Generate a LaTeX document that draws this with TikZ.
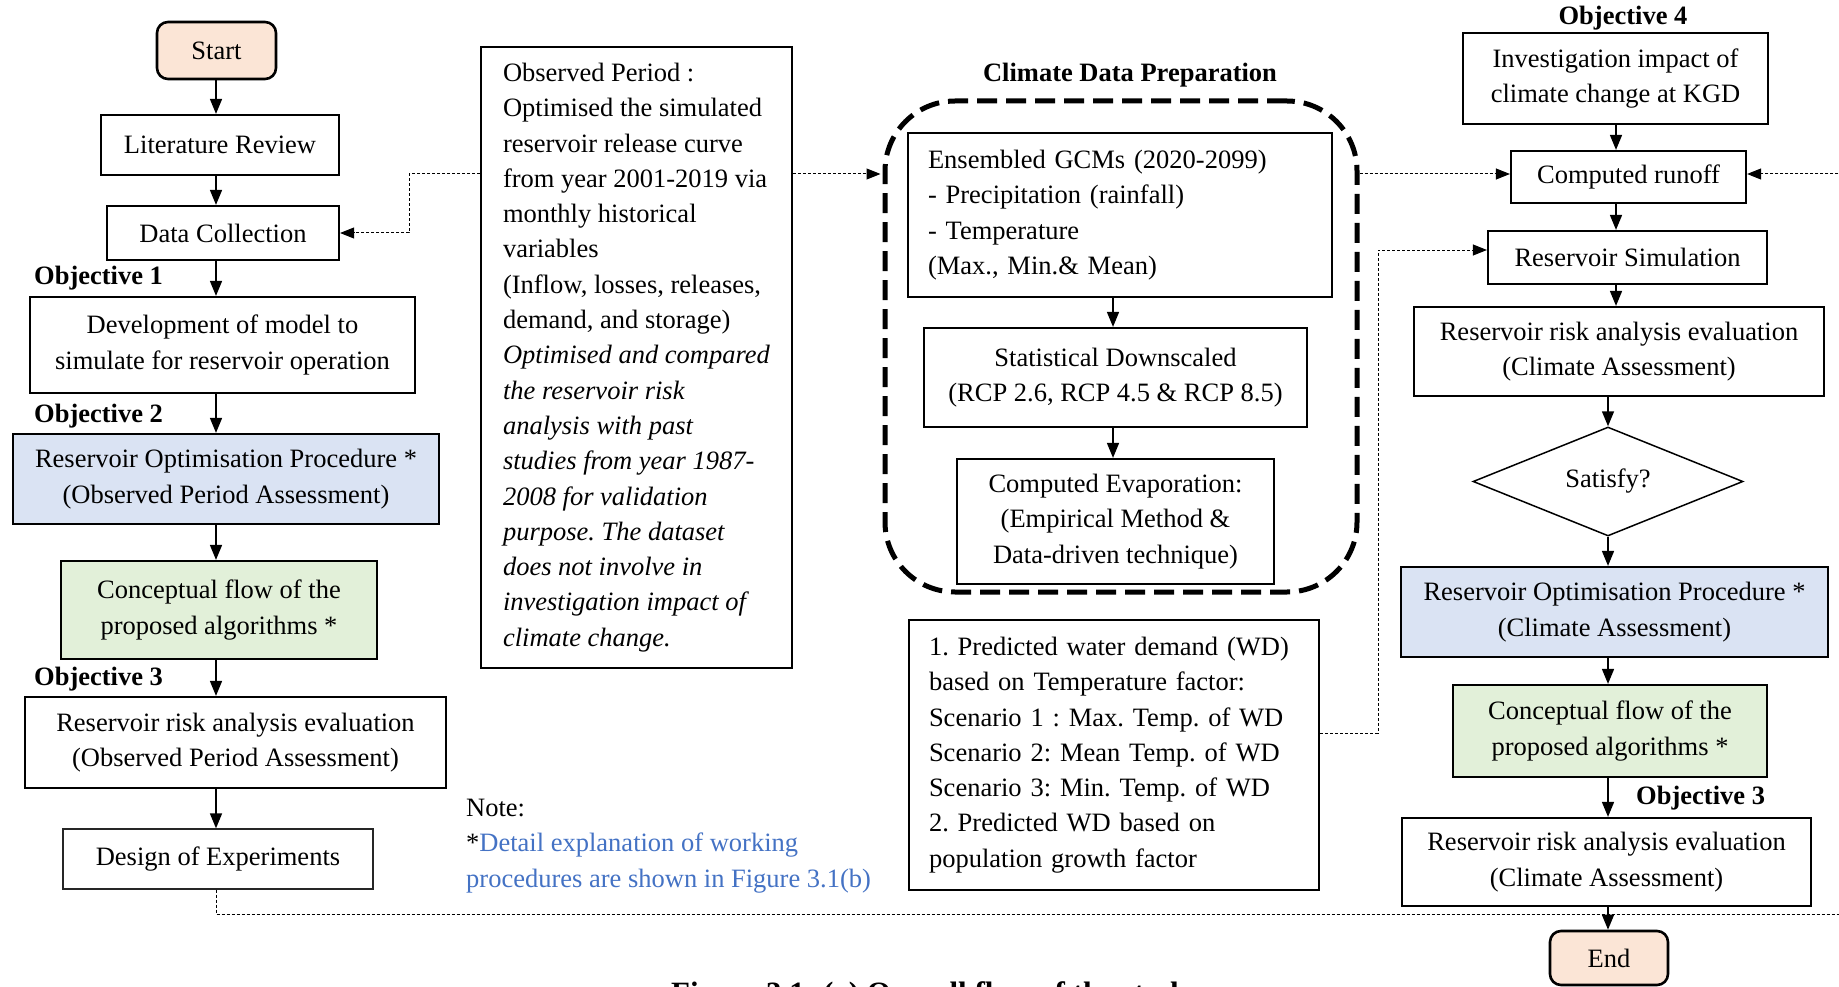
\documentclass[tikz,border=0pt]{standalone}
\usepackage{fontspec}
\setmainfont{Liberation Serif}
\usetikzlibrary{shapes.geometric,arrows.meta}
\definecolor{peach}{HTML}{FBE5D6}
\definecolor{paleblue}{HTML}{DAE3F3}
\definecolor{palegreen}{HTML}{E2F0D9}
\definecolor{noteblue}{HTML}{4472C4}
\frenchspacing

\begin{document}
\begin{tikzpicture}[x=1pt,y=-1pt,
  every node/.style={font=\fontsize{26.5}{35.3}\selectfont, inner sep=0pt},
  box/.style={draw, line width=2.2pt, align=center},
  thinbox/.style={draw=black!85, line width=1.3pt, align=center},
  terminal/.style={draw, line width=2.6pt, rounded corners=11pt, fill=peach},
  objlabel/.style={font=\fontsize{26.5}{35.3}\selectfont\bfseries},
  flow/.style={line width=1.5pt, -{Triangle[length=15pt,width=12pt]}},
  link/.style={line width=1pt, dash pattern=on 3pt off 2pt, -{Triangle[length=14pt,width=11pt]}},
]
\useasboundingbox (0,0) rectangle (1839,987);

% ---------------- left column: observed period ----------------
\node[terminal, minimum width=119pt, minimum height=57pt] (start) at (216.5,50.5) {Start};
\node[box, minimum width=238pt, minimum height=60pt] (lit) at (220,145) {Literature Review};
\node[box, minimum width=232pt, minimum height=54pt] (data) at (223,233) {Data Collection};
\node[objlabel, anchor=west] (obj1) at (34,278) {Objective 1};
\node[box, minimum width=385pt, minimum height=96pt] (dev) at (222.5,345)
  {Development of model to\\simulate for reservoir operation};
\node[objlabel, anchor=west] (obj2) at (34,416) {Objective 2};
\node[box, fill=paleblue, minimum width=426pt, minimum height=90pt] (rop1) at (226,479)
  {Reservoir Optimisation Procedure *\\(Observed Period Assessment)};
\node[box, fill=palegreen, minimum width=316pt, minimum height=98pt] (conc1) at (219,610)
  {Conceptual flow of the\\proposed algorithms *};
\node[objlabel, anchor=west] (obj3) at (34,679) {Objective 3};
\node[box, minimum width=421pt, minimum height=91pt] (risk1) at (235.5,742.5)
  {Reservoir risk analysis evaluation\\(Observed Period Assessment)};
\node[thinbox, minimum width=310pt, minimum height=60pt] (doe) at (218,859) {Design of Experiments};

\coordinate (colL) at (216,0);
\draw[flow] (start.south -| colL) -- (lit.north -| colL);
\draw[flow] (lit.south -| colL) -- (data.north -| colL);
\draw[flow] (data.south -| colL) -- (dev.north -| colL);
\draw[flow] (dev.south -| colL) -- (rop1.north -| colL);
\draw[flow] (rop1.south -| colL) -- (conc1.north -| colL);
\draw[flow] (conc1.south -| colL) -- (risk1.north -| colL);
\draw[flow] (risk1.south -| colL) -- (doe.north -| colL);

% ---------------- observed period description ----------------
\node[draw, line width=1.8pt, align=left, minimum width=311pt, minimum height=621pt] (obs) at (636.5,357.5)
  {Observed Period :\\
   Optimised the simulated\\
   reservoir release curve\\
   from year 2001-2019 via\\
   monthly historical\\
   variables\\
   (Inflow, losses, releases,\\
   demand, and storage)\\
   \textit{Optimised and compared}\\
   \textit{the reservoir risk}\\
   \textit{analysis with past}\\
   \textit{studies from year 1987-}\\
   \textit{2008 for validation}\\
   \textit{purpose. The dataset}\\
   \textit{does not involve in}\\
   \textit{investigation impact of}\\
   \textit{climate change.}};

\node[align=left, anchor=west] (note) at (466,846)
  {Note:\\
   *\textcolor{noteblue}{Detail explanation of working}\\
   \textcolor{noteblue}{procedures are shown in Figure 3.1(b)}};

% ---------------- climate data preparation ----------------
\node[objlabel] (cdptitle) at (1130,75) {Climate Data Preparation};
\node[draw, line width=5pt, dash pattern=on 20pt off 9pt, rounded corners=70pt,
      minimum width=472pt, minimum height=491pt] (climate) at (1121,346.5) {};
\node[box, align=left, text width=384pt, inner xsep=20pt, minimum height=164pt] (gcm) at (1120,215)
  {Ensembled GCMs (2020-2099)\\- Precipitation (rainfall)\\- Temperature\\(Max., Min.\& Mean)};
\node[box, minimum width=383pt, minimum height=99pt] (down) at (1115.5,377.5)
  {Statistical Downscaled\\(RCP 2.6, RCP 4.5 \& RCP 8.5)};
\node[box, minimum width=317pt, minimum height=125pt] (evap) at (1115.5,521.5)
  {Computed Evaporation:\\(Empirical Method \&\\Data-driven technique)};
\coordinate (colM) at (1113,0);
\draw[flow] (gcm.south -| colM) -- (down.north -| colM);
\draw[flow] (down.south -| colM) -- (evap.north -| colM);

\node[box, align=left, text width=370pt, inner xsep=20pt, minimum height=270pt] (wd) at (1114,755)
  {1. Predicted water demand (WD)\\
   based on Temperature factor:\\
   Scenario 1 : Max. Temp. of WD\\
   Scenario 2: Mean Temp. of WD\\
   Scenario 3: Min. Temp. of WD\\
   2. Predicted WD based on\\
   population growth factor};

% ---------------- right column: climate assessment ----------------
\node[objlabel] (obj4) at (1623,18) {Objective 4};
\node[box, minimum width=305pt, minimum height=91pt] (inv) at (1615.5,78.5)
  {Investigation impact of\\climate change at KGD};
\node[box, minimum width=235pt, minimum height=52pt] (runoff) at (1628.5,177) {Computed runoff};
\node[box, minimum width=279pt, minimum height=53pt] (ressim) at (1627.5,257.5) {Reservoir Simulation};
\node[box, minimum width=410pt, minimum height=89pt] (risk2) at (1619,351.5)
  {Reservoir risk analysis evaluation\\(Climate Assessment)};
\node[draw, line width=1.5pt, diamond, aspect=2.48, minimum width=270pt, minimum height=109pt] (sat)
  at (1608,481.5) {Satisfy?};
\node[box, fill=paleblue, minimum width=427pt, minimum height=90pt] (rop2) at (1614.5,612)
  {Reservoir Optimisation Procedure *\\(Climate Assessment)};
\node[box, fill=palegreen, minimum width=314pt, minimum height=92pt] (conc2) at (1610,731)
  {Conceptual flow of the\\proposed algorithms *};
\node[objlabel, anchor=west] (obj3r) at (1636,798) {Objective 3};
\node[box, minimum width=409pt, minimum height=88pt] (risk3) at (1606.5,862)
  {Reservoir risk analysis evaluation\\(Climate Assessment)};
\node[terminal, minimum width=118pt, minimum height=54pt] (endn) at (1609,958) {End};

\coordinate (colA) at (1616,0);
\coordinate (colB) at (1608,0);
\draw[flow] (inv.south -| colA) -- (runoff.north -| colA);
\draw[flow] (runoff.south -| colA) -- (ressim.north -| colA);
\draw[flow] (ressim.south -| colA) -- (risk2.north -| colA);
\draw[flow] (risk2.south -| colB) -- (sat.north);
\draw[flow] (sat.south) -- (rop2.north -| colB);
\draw[flow] (rop2.south -| colB) -- (conc2.north -| colB);
\draw[flow] (conc2.south -| colB) -- (risk3.north -| colB);
\draw[flow] (risk3.south -| colB) -- (endn.north -| colB);

% ---------------- dashed data links ----------------
\coordinate (obsJog) at (409,174);
\draw[link] (obsJog -| obs.west) -- (obsJog) |- (data.east);
\draw[link, shorten >=2pt] (obsJog -| obs.east) -- (obsJog -| climate.west);
\draw[link] (obsJog -| climate.east) -- (obsJog -| runoff.west);

\coordinate (wdJog) at (1378,733);
\coordinate (wdTop) at (1378,250);
\draw[link] (wdJog -| wd.east) -- (wdJog) -- (wdTop) -- (wdTop -| ressim.west);

\coordinate (bottomR) at (1850,914);
\coordinate (farR) at (1850,174);
\draw[link] (doe.south -| colL) |- (bottomR) -- (farR) -- (farR -| runoff.east);

% ---------------- caption, running off the lower edge ----------------
\node[font=\fontsize{31}{36}\selectfont\bfseries, anchor=base west] (caption) at (671,1003.5)
  {Figure 3.1: (a) Overall flow of the study};
\end{tikzpicture}
\end{document}
